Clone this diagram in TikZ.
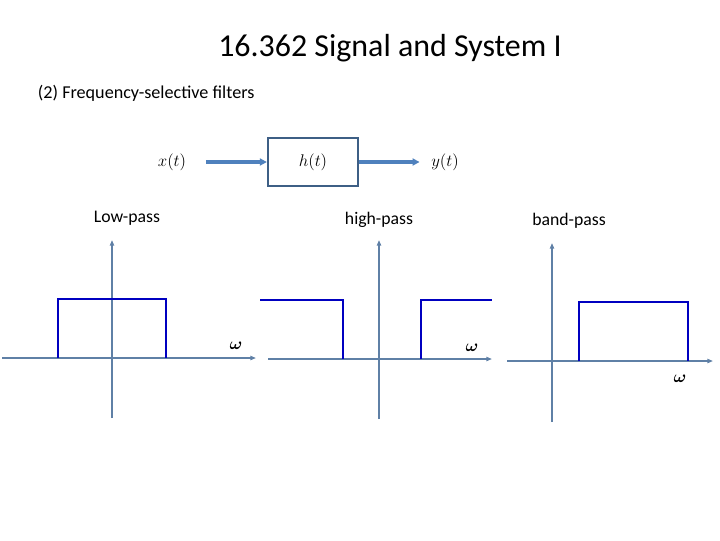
\documentclass[tikz,border=0pt]{standalone}
\usepackage{fontspec}
\usepackage{amsmath}
\usetikzlibrary{arrows.meta}
\setmainfont{Carlito}
\definecolor{axisgray}{HTML}{5F80A6}
\definecolor{flowblue}{HTML}{4F81BD}
\definecolor{boxedge}{HTML}{3E5F85}
\definecolor{passblue}{HTML}{0000C0}
\begin{document}
\begin{tikzpicture}[x=0.025cm, y=-0.025cm,
  title/.style={font=\fontsize{22.7}{26}\selectfont},
  label/.style={font=\fontsize{12.6}{15}\selectfont},
  sig/.style={font=\fontsize{12}{14}\selectfont, inner sep=1pt},
  sysbox/.style={rectangle, draw=boxedge, line width=1.6pt, minimum width=2.25cm,
                 minimum height=1.2cm, font=\fontsize{12}{14}\selectfont},
  flow/.style={-{Triangle[length=5pt,width=5pt]}, flowblue, line width=2.4pt},
  axis/.style={-{Triangle[length=4pt,width=3pt]}, axisgray, line width=1.3pt},
  gain/.style={passblue, line width=2.1pt},
  omega/.style={font=\fontsize{12}{14}\selectfont}
]
  \useasboundingbox (0,0) rectangle (720,540);

  \node[title] (head) at (390,48) {16.362 Signal and System I};
  \node[label, anchor=west, font=\fontsize{12.9}{15}\selectfont] (sub) at (33,93) {(2) Frequency-selective filters};

  % system block
  \node[sig]    (xin)  at (172,162) {$x(t)$};
  \node[sysbox] (hsys) at (313,162) {$h(t)$};
  \node[sig]    (yout) at (445,162) {$y(t)$};
  \draw[flow, shorten <=0.45cm] (xin) -- (hsys);
  \draw[flow, shorten >=0.25cm] (hsys) -- (yout);

  \node[label] (lp) at (127,218) {Low-pass};
  \node[label] (hp) at (379,220) {high-pass};
  \node[label] (bp) at (569,221) {band-pass};

  % low-pass
  \coordinate (lpl) at (2,358);   \coordinate (lpr) at (256,358);
  \coordinate (lpb) at (112,418); \coordinate (lpt) at (112,240);
  \draw[axis] (lpl) -- (lpr);
  \draw[axis] (lpb) -- (lpt);
  \draw[gain] (58,358) -- (58,299) -- (166,299) -- (166,358);
  \node[omega] (lpw) at (236,346) {$\boldsymbol{\omega}$};

  % high-pass
  \coordinate (hpl) at (268,359); \coordinate (hpr) at (492,359);
  \coordinate (hpb) at (379,419); \coordinate (hpt) at (379,240);
  \draw[axis] (hpl) -- (hpr);
  \draw[axis] (hpb) -- (hpt);
  \draw[gain] (260,300) -- (343,300) -- (343,359);
  \draw[gain] (421,359) -- (421,300) -- (492,300);
  \node[omega] (hpw) at (472,348) {$\boldsymbol{\omega}$};

  % band-pass
  \coordinate (bpl) at (507,361); \coordinate (bpr) at (713,361);
  \coordinate (bpb) at (552,422); \coordinate (bpt) at (552,243);
  \draw[axis] (bpl) -- (bpr);
  \draw[axis] (bpb) -- (bpt);
  \draw[gain] (579,361) -- (579,302) -- (688,302) -- (688,361);
  \node[omega] (bpw) at (680,379) {$\boldsymbol{\omega}$};

\end{tikzpicture}
\end{document}
